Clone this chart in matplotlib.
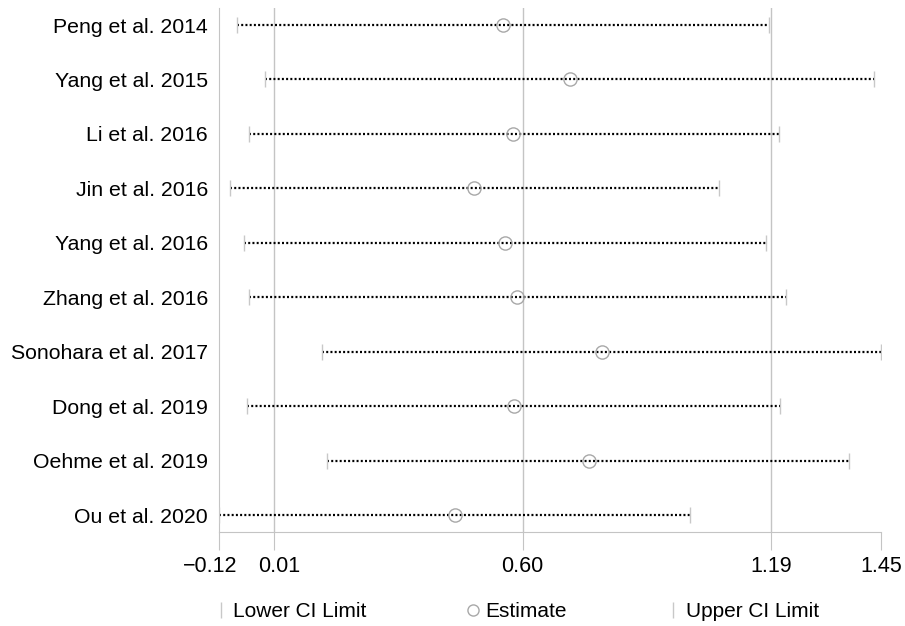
import matplotlib.pyplot as plt
import matplotlib.transforms as mtransforms
from matplotlib.lines import Line2D

plt.rcParams['font.family'] = ['Liberation Sans', 'DejaVu Sans']

studies = ['Peng et al. 2014', 'Yang et al. 2015', 'Li et al. 2016', 'Jin et al. 2016',
           'Yang et al. 2016', 'Zhang et al. 2016', 'Sonohara et al. 2017', 'Dong et al. 2019',
           'Oehme et al. 2019', 'Ou et al. 2020']
lower = [-0.077, -0.011, -0.049, -0.094, -0.061, -0.049, 0.124, -0.054, 0.136, -0.12]
estimate = [0.553, 0.712, 0.577, 0.485, 0.558, 0.587, 0.788, 0.580, 0.757, 0.440]
upper = [1.184, 1.433, 1.208, 1.066, 1.177, 1.225, 1.45, 1.210, 1.374, 0.997]

xticks = [-0.12, 0.01, 0.60, 1.19, 1.45]
xtick_labels = ['\u22120.12', '0.01', '0.60', '1.19', '1.45']
grid_at = [0.01, 0.60, 1.19]

fig = plt.figure(figsize=(9.05, 6.26), dpi=100)
ax = fig.add_axes([0.242, 0.150, 0.7315, 0.837])

for g in grid_at:
    ax.axvline(g, color='#c4c4c4', lw=1.0, zorder=0)

pos = list(range(len(studies)))
for i in pos:
    ax.plot([lower[i], upper[i]], [i, i], color='black', lw=1.6, ls=(0, (0.9, 1.0)), zorder=2)
ax.plot(lower, pos, ls='none', marker='|', ms=11, mew=1.0, color='#c8c8c8', zorder=3)
ax.plot(upper, pos, ls='none', marker='|', ms=11, mew=1.0, color='#c8c8c8', zorder=3)
ax.plot(estimate, pos, ls='none', marker='o', ms=9.5, mew=1.0, mfc='none', mec='#a8a8a8', zorder=4)

ax.set_xlim(-0.12, 1.45)
ax.set_ylim(len(studies) - 1 + 0.31, -0.31)
ax.set_xticks(xticks)
ax.set_xticklabels(xtick_labels, fontsize=15.5)
ax.set_yticks(pos)
ax.set_yticklabels(studies, fontsize=15.3)
ax.tick_params(axis='y', length=0, pad=8)
ax.tick_params(axis='x', length=13, color='#c4c4c4', pad=4)

# nudge the two crowded left tick labels apart
labels = ax.get_xticklabels()
labels[0].set_transform(labels[0].get_transform() + mtransforms.ScaledTranslation(-0.09, 0, fig.dpi_scale_trans))
labels[1].set_transform(labels[1].get_transform() + mtransforms.ScaledTranslation(0.05, 0, fig.dpi_scale_trans))

for s in ['top', 'right']:
    ax.spines[s].set_visible(False)
for s in ['left', 'bottom']:
    ax.spines[s].set_color('#c4c4c4')

handles = [
    Line2D([], [], ls='none', marker='|', ms=11, color='#c8c8c8'),
    Line2D([], [], ls='none', marker='o', ms=8, mfc='none', mec='#a8a8a8'),
    Line2D([], [], ls='none', marker='|', ms=11, color='#c8c8c8'),
]
fig.legend(handles, ['Lower CI Limit', 'Estimate', 'Upper CI Limit'], loc='lower center',
           bbox_to_anchor=(0.571, -0.022), ncol=3, frameon=False, fontsize=15,
           columnspacing=4.8, handlelength=0.6, handletextpad=0.3)

fig.savefig('out.png', dpi=100)
